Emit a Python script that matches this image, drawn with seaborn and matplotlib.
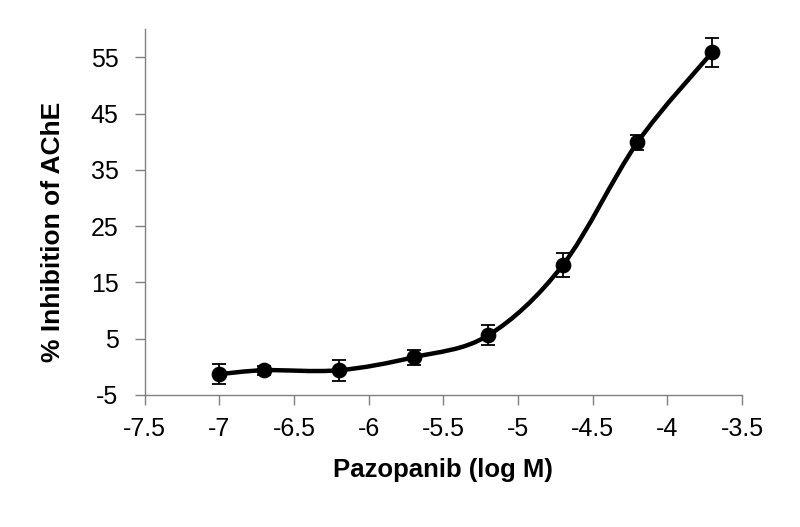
import matplotlib
matplotlib.use('Agg')
import matplotlib.pyplot as plt
from matplotlib.path import Path
from matplotlib.patches import PathPatch
import numpy as np
import pandas as pd
import seaborn as sns

# data
log_conc = [-7.0, -6.7, -6.2, -5.7, -5.2, -4.7, -4.2, -3.7]
inhibition = [-1.3, -0.6, -0.6, 1.7, 5.6, 18.1, 39.9, 55.9]
sem = [1.8, 0.8, 1.9, 1.3, 1.8, 2.1, 1.3, 2.6]
x_ticks = [-7.5, -7, -6.5, -6, -5.5, -5, -4.5, -4, -3.5]
y_ticks = [-5, 5, 15, 25, 35, 45, 55]

df = pd.DataFrame({'conc': log_conc, 'inh': inhibition, 'err': sem})

sns.set_theme(style='white')
plt.rcParams['font.family'] = ['Liberation Sans', 'DejaVu Sans']
plt.rcParams['axes.unicode_minus'] = False

fig = plt.figure(figsize=(8, 5.27), dpi=100)
ax = fig.add_axes([0.181, 0.2505, 0.7465, 0.694])

# smooth line (Excel-style bezier through the points)
pts = df[['conc', 'inh']].to_numpy()
verts = [tuple(pts[0])]
codes = [Path.MOVETO]
n = len(pts)
for i in range(n - 1):
    p0 = pts[i - 1] if i > 0 else pts[i]
    p1 = pts[i]
    p2 = pts[i + 1]
    p3 = pts[i + 2] if i + 2 < n else pts[i + 1]
    c1 = p1 + (p2 - p0) / 6
    c2 = p2 - (p3 - p1) / 6
    verts += [tuple(c1), tuple(c2), tuple(p2)]
    codes += [Path.CURVE4] * 3
ax.add_patch(PathPatch(Path(verts, codes), facecolor='none', edgecolor='black',
                       lw=3.2, capstyle='round', joinstyle='round', zorder=2))

ax.errorbar(df['conc'], df['inh'], yerr=df['err'], fmt='none', ecolor='black',
            elinewidth=1.3, capsize=5, capthick=1.3, zorder=3)
sns.scatterplot(data=df, x='conc', y='inh', color='black', s=110,
                edgecolor='black', zorder=4, ax=ax)

ax.set_xlim(-7.5, -3.5)
ax.set_ylim(-5, 60)
ax.set_xticks(x_ticks)
ax.set_xticklabels([f'{t:g}' for t in x_ticks])
ax.set_yticks(y_ticks)

sns.despine(ax=ax)
for s in ['left', 'bottom']:
    ax.spines[s].set_color('#808080')
    ax.spines[s].set_linewidth(1.0)
ax.tick_params(axis='both', which='major', direction='out', length=7,
               width=1.0, color='#808080', labelsize=18, labelcolor='black',
               bottom=True, left=True)
ax.tick_params(axis='x', pad=9)
ax.tick_params(axis='y', pad=12)

ax.set_xlabel('Pazopanib (log M)', fontsize=18.5, fontweight='bold',
              va='center', color='black')
ax.set_ylabel('% Inhibition of AChE', fontsize=19, fontweight='bold',
              va='center', color='black')
ax.xaxis.set_label_coords(0.5, -0.205)
ax.yaxis.set_label_coords(-0.154, 0.445)

fig.savefig('out.png', dpi=100, facecolor='white')
